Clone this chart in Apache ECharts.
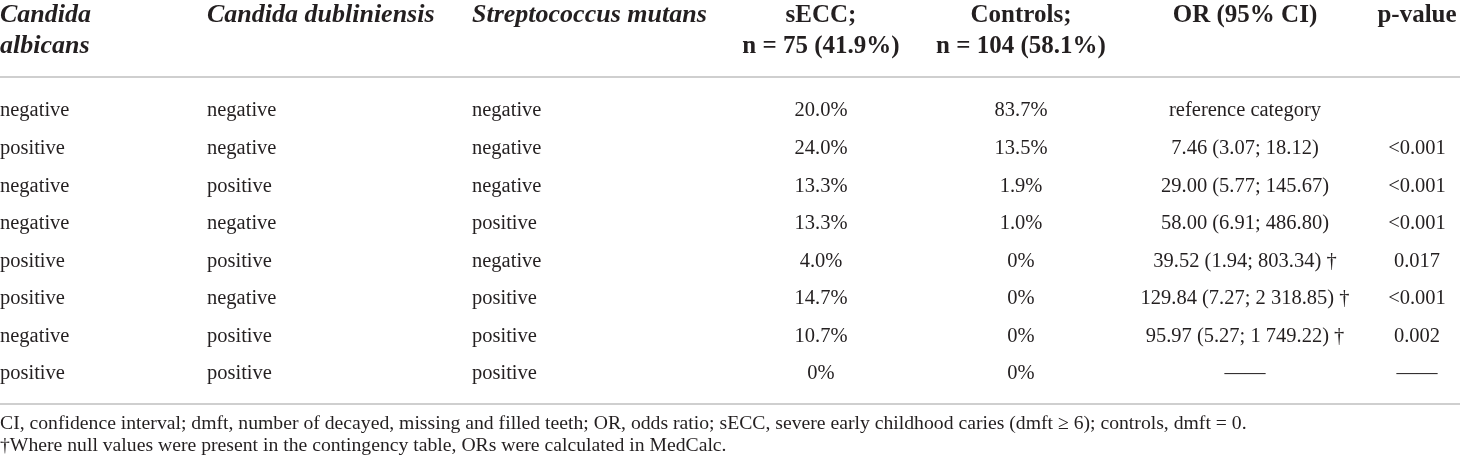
<!DOCTYPE html>
<html>
<head>
<meta charset="utf-8">
<script src="https://cdn.jsdelivr.net/npm/echarts@6/dist/echarts.min.js"></script>
<style>
html,body{margin:0;padding:0;background:#fff;}
#main{width:1460px;height:463px;}
</style>
</head>
<body>
<div id="main"></div>
<script>
// table content
var headers = ['Candida\nalbicans', 'Candida dubliniensis', 'Streptococcus mutans',
    'sECC;\nn = 75 (41.9%)', 'Controls;\nn = 104 (58.1%)', 'OR (95% CI)', 'p-value'];
var albicans = ['negative', 'positive', 'negative', 'negative', 'positive', 'positive', 'negative', 'positive'];
var dubliniensis = ['negative', 'negative', 'positive', 'negative', 'positive', 'negative', 'positive', 'positive'];
var mutans = ['negative', 'negative', 'negative', 'positive', 'negative', 'positive', 'positive', 'positive'];
var secc = ['20.0%', '24.0%', '13.3%', '13.3%', '4.0%', '14.7%', '10.7%', '0%'];
var controls = ['83.7%', '13.5%', '1.9%', '1.0%', '0%', '0%', '0%', '0%'];
var orCI = ['reference category', '7.46 (3.07; 18.12)', '29.00 (5.77; 145.67)', '58.00 (6.91; 486.80)',
    '39.52 (1.94; 803.34) \u2020', '129.84 (7.27; 2 318.85) \u2020', '95.97 (5.27; 1 749.22) \u2020', '\u2014\u2014'];
var pValue = ['', '<0.001', '<0.001', '<0.001', '0.017', '<0.001', '0.002', '\u2014\u2014'];
var notes = [
    'CI, confidence interval; dmft, number of decayed, missing and filled teeth; OR, odds ratio; sECC, severe early childhood caries (dmft \u2265 6); controls, dmft = 0.',
    '\u2020Where null values were present in the contingency table, ORs were calculated in MedCalc.'
];

var columns = [albicans, dubliniensis, mutans, secc, controls, orCI, pValue];

// layout
var colX = [0, 207, 472, 821, 1021, 1245, 1417];
var colAlign = ['left', 'left', 'left', 'center', 'center', 'center', 'center'];
var headerRow = -2.96;
var serif = '"Liberation Serif", "DejaVu Serif", serif';
var ink = '#231f20';

var bodyData = [];
for (var c = 0; c < columns.length; c++) {
    for (var r = 0; r < columns[c].length; r++) {
        bodyData.push([c, r]);
    }
}
var headData = [];
for (var h = 0; h < headers.length; h++) {
    headData.push([h, headerRow]);
}

function bodyItem(params, api) {
    var c = api.value(0), r = api.value(1);
    var p = api.coord([colX[c], r]);
    return {
        type: 'text',
        style: {
            text: columns[c][r],
            x: p[0], y: p[1],
            fill: ink,
            fontSize: 20.5,
            fontFamily: serif,
            align: colAlign[c],
            verticalAlign: 'middle'
        }
    };
}

function headItem(params, api) {
    var c = api.value(0);
    var p = api.coord([colX[c], api.value(1)]);
    var italic = c < 3;
    return {
        type: 'text',
        style: {
            text: headers[c],
            x: p[0], y: p[1],
            fill: ink,
            fontSize: italic ? 26 : 25,
            fontWeight: 'bold',
            fontStyle: italic ? 'italic' : 'normal',
            fontFamily: serif,
            lineHeight: 31,
            align: colAlign[c],
            verticalAlign: 'top'
        }
    };
}

var ruleLine = {show: true, onZero: false, lineStyle: {color: '#cfcfcf', width: 2}};
var noteStyle = {fontSize: 19.7, fontWeight: 'normal', color: ink, fontFamily: serif};

var myChart = echarts.init(document.getElementById('main'));
myChart.setOption({
    animation: false,
    textStyle: {fontFamily: serif},
    title: [
        {text: notes[0], left: 0, top: 414, padding: 0, textStyle: noteStyle},
        {text: notes[1], left: 0, top: 436, padding: 0, textStyle: noteStyle}
    ],
    grid: {left: 0, right: 0, top: 77, bottom: 59, containLabel: false},
    xAxis: [
        {type: 'value', min: 0, max: 1460, position: 'top', axisLine: ruleLine,
            axisTick: {show: false}, axisLabel: {show: false}, splitLine: {show: false}},
        {type: 'value', min: 0, max: 1460, position: 'bottom', axisLine: ruleLine,
            axisTick: {show: false}, axisLabel: {show: false}, splitLine: {show: false}}
    ],
    yAxis: {type: 'value', inverse: true, min: -0.905, max: 7.80, show: false},
    series: [
        {type: 'custom', name: 'header', xAxisIndex: 0, renderItem: headItem, data: headData, silent: true},
        {type: 'custom', name: 'body', xAxisIndex: 0, renderItem: bodyItem, data: bodyData, silent: true}
    ]
});
</script>
</body>
</html>
